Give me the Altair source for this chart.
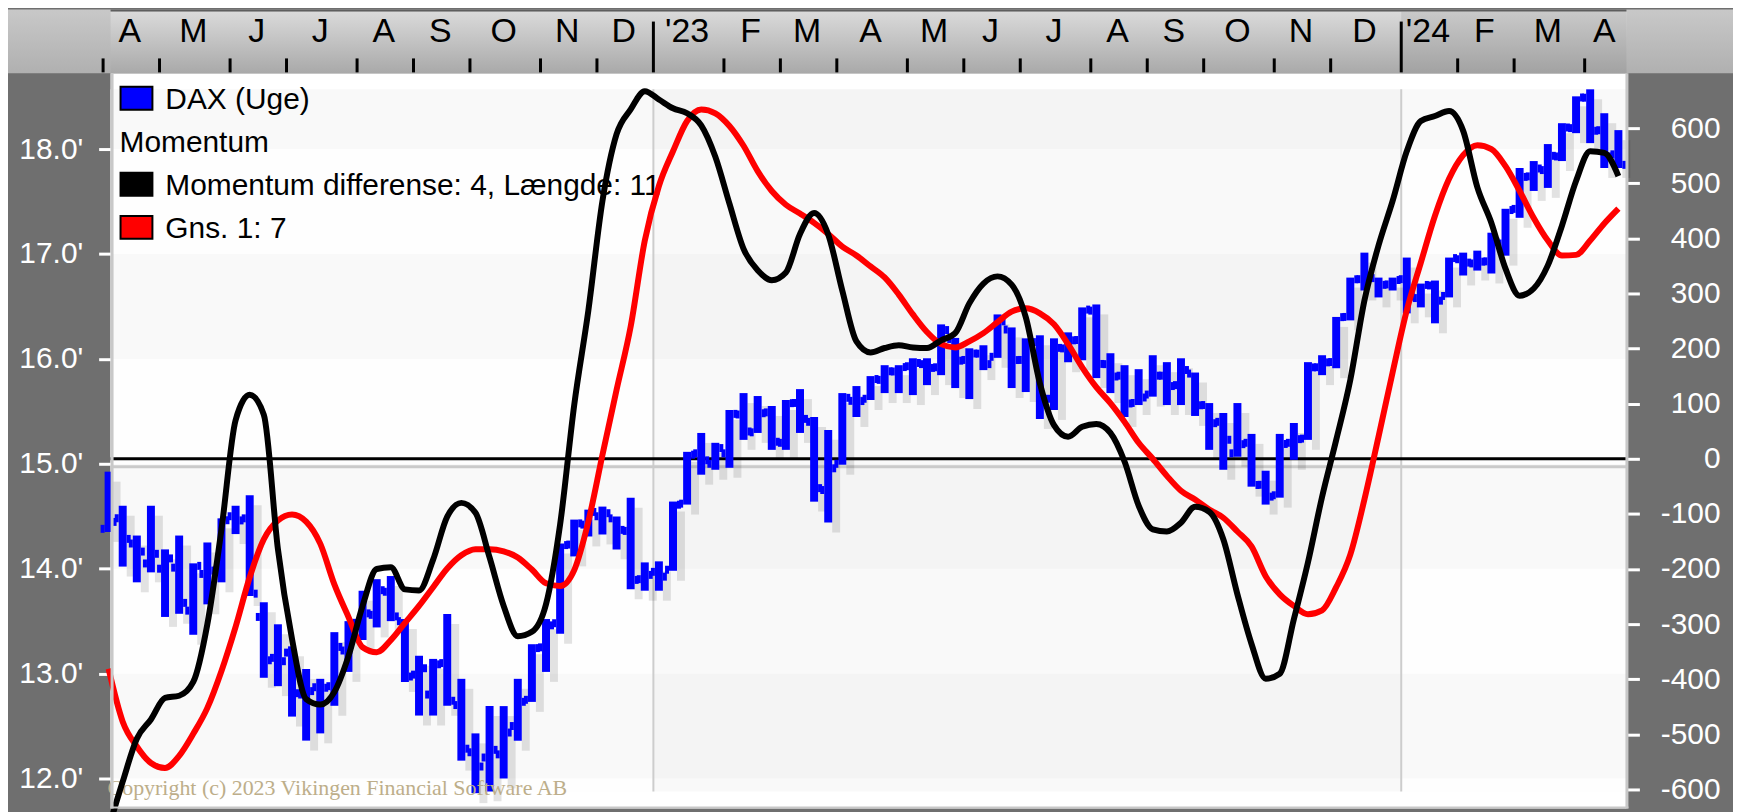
import altair as alt
import pandas as pd

FONT = "Liberation Sans Narrow, Arial Narrow, Liberation Sans, Arial, sans-serif"
SERIF = "Liberation Serif, DejaVu Serif, serif"

# ---------------- data ----------------
week = list(range(108))

dax_open = [14380, 14480, 14240, 14050, 14000, 14010, 13600, 13950, 13990, 14500,
            14480, 13540, 13150, 13200, 12800, 12870, 12880, 13220, 13460, 13560,
            13780, 13500, 12990, 12800, 13100, 12700, 12250, 12200, 12230, 12500,
            12750, 13250, 13480, 14230, 14420, 14500, 14480, 14360, 13900, 13970,
            13990, 14620, 15100, 15000, 15100, 15470, 15300, 15490, 15200, 15580,
            15400, 14750, 15000, 15600, 15620, 15800, 15880, 15930, 15950, 15920,
            16190, 15990, 16050, 16020, 16280, 15990, 16160, 15620, 16100, 16180,
            16460, 15950, 15840, 15580, 15660, 15840, 15750, 15860, 15560, 15400,
            15100, 15200, 14800, 14700, 15200, 15240, 15920, 15970, 16400, 16760,
            16770, 16710, 16760, 16580, 16700, 16600, 16950, 16910, 16930, 17100,
            17430, 17740, 17800, 17930, 18200, 18490, 18180, 17950]

dax_high = [14925, 14600, 14316, 14600, 14184, 14316, 14051, 14250, 14480, 14600,
            14700, 13680, 13470, 13260, 13044, 12950, 13395, 13500, 13790, 13900,
            13930, 13520, 13170, 13140, 13567, 12950, 12430, 12690, 12690, 12950,
            13280, 13520, 14240, 14468, 14563, 14592, 14497, 14677, 14060, 14070,
            14640, 15114, 15294, 15200, 15513, 15674, 15646, 15551, 15608, 15712,
            15446, 15323, 15674, 15741, 15836, 15940, 15940, 16006, 16006, 16329,
            16200, 16101, 16130, 16424, 16300, 16196, 16225, 16196, 16253, 16491,
            16519, 16054, 15940, 15902, 16035, 15969, 16006, 15870, 15579, 15484,
            15579, 15285, 14934, 15285, 15389, 15969, 16035, 16400, 16775, 17013,
            16775, 16775, 16966, 16718, 16747, 16966, 17013, 17032, 17203, 17431,
            17820, 17886, 18048, 18247, 18503, 18570, 18342, 18181]

dax_low = [14350, 14020, 13870, 13965, 13540, 13570, 13370, 13660, 13870, 14330,
           13740, 12960, 12880, 12590, 12361, 12430, 12693, 13016, 13320, 13440,
           13500, 12920, 12600, 12600, 12693, 12170, 11860, 11877, 12000, 12360,
           12730, 13016, 13380, 14117, 14307, 14326, 14184, 13804, 13790, 13790,
           13980, 14611, 14896, 14943, 14962, 15228, 15294, 15133, 15133, 15294,
           14639, 14440, 14991, 15446, 15608, 15674, 15674, 15655, 15750, 15845,
           15722, 15617, 15893, 16010, 15722, 15684, 15427, 15513, 15968, 15987,
           15817, 15674, 15446, 15560, 15640, 15560, 15560, 15456, 15133, 14943,
           15067, 14782, 14611, 14677, 15038, 15228, 15845, 15911, 16367, 16652,
           16586, 16652, 16434, 16491, 16339, 16586, 16795, 16842, 16814, 16984,
           17345, 17601, 17630, 17886, 18152, 18057, 17820, 17820]

dax_close = [14446, 14284, 14163, 14142, 14098, 13674, 14027, 13982, 14462, 14460,
             13762, 13127, 13118, 12813, 12833, 12865, 13254, 13484, 13574, 13795,
             13545, 12972, 13051, 13088, 12741, 12284, 12114, 12273, 12438, 12731,
             13243, 13460, 14225, 14432, 14541, 14529, 14370, 13893, 13941, 13924,
             14610, 15087, 15033, 15150, 15476, 15308, 15482, 15210, 15578, 15428,
             14768, 14957, 15629, 15598, 15808, 15882, 15922, 15961, 15914, 16275,
             15983, 16051, 15950, 16358, 15989, 16148, 15603, 16105, 16177, 16470,
             15952, 15832, 15575, 15632, 15840, 15741, 15894, 15558, 15387, 15229,
             15187, 14798, 14687, 15189, 15235, 15919, 15967, 16398, 16759, 16795,
             16706, 16752, 16594, 16705, 16555, 16961, 16918, 16927, 17117, 17419,
             17735, 17815, 17936, 18206, 18492, 18175, 17930, 17850]

momentum = [-670, -586, -508, -473, -434, -430, -405, -300, -128, 70,
            116, 80, -164, -327, -436, -446, -423, -358, -267, -200,
            -197, -237, -239, -183, -105, -80, -98, -179, -267, -322,
            -314, -264, -119, 98, 269, 468, 589, 634, 667, 652,
            636, 627, 605, 548, 463, 381, 342, 324, 338, 408,
            446, 407, 305, 213, 193, 201, 206, 202, 201, 215,
            228, 282, 318, 331, 316, 257, 137, 61, 40, 58,
            63, 47, -5, -85, -128, -132, -116, -87, -96, -146,
            -246, -336, -399, -390, -291, -188, -69, 34, 143, 287,
            387, 468, 558, 613, 622, 631, 595, 493, 428, 345,
            296, 309, 351, 423, 504, 558, 555, 513]

momentum_avg = [-381, -477, -522, -552, -561, -539, -499, -452, -385, -305,
                -215, -146, -112, -101, -114, -154, -228, -287, -342, -351,
                -329, -298, -267, -233, -199, -175, -164, -164, -168, -179,
                -201, -226, -231, -202, -114, 7, 125, 240, 396, 495,
                558, 613, 634, 627, 604, 568, 522, 486, 461, 445,
                428, 408, 385, 369, 349, 329, 298, 262, 230, 208,
                202, 213, 228, 248, 267, 273, 264, 244, 208, 166,
                130, 101, 67, 29, 0, -31, -58, -74, -92, -107,
                -132, -159, -213, -246, -267, -282, -275, -233, -174, -74,
                40, 157, 269, 356, 441, 508, 551, 569, 562, 531,
                486, 437, 396, 369, 370, 396, 427, 454]

month_labels = ["A", "M", "J", "J", "A", "S", "O", "N", "D", "'23", "F", "M", "A",
                "M", "J", "J", "A", "S", "O", "N", "D", "'24", "F", "M", "A"]
month_start_week = [0, 4, 9, 13, 18, 22, 26, 31, 35, 39, 44, 48, 52,
                    57, 61, 65, 70, 74, 78, 83, 87, 92, 96, 100, 105]

price_ticks = [12000, 13000, 14000, 15000, 16000, 17000, 18000]
momentum_ticks = [-600, -500, -400, -300, -200, -100, 0, 100, 200, 300, 400, 500, 600]

band_lo = [11875, 12000, 13000, 14000, 15000, 16000, 17000, 18000]
band_hi = [12000, 13000, 14000, 15000, 16000, 17000, 18000, 18570]
band_fill = ["#fefefe", "#f9f9f9", "#fefefe", "#f9f9f9", "#fefefe", "#f9f9f9", "#fefefe", "#f9f9f9"]

legend_labels = ["DAX (Uge)", "Momentum", "Momentum differense: 4, Længde: 11", "Gns. 1: 7"]
legend_colors = ["#0000ff", None, "#000000", "#ff0000"]
copyright_text = "Copyright (c) 2023 Vikingen Financial Software AB"

# ---------------- layout ----------------
W, H = 1522, 738
PAD_L, PAD_T, PAD_R, PAD_B = 103, 64, 107, 2
X_DOMAIN = [0.141, 107.57]
P_DOMAIN = [11715, 18722]
M_DOMAIN = [-634.4, 699.4]

xs = alt.Scale(domain=X_DOMAIN, nice=False, zero=False)
ps = alt.Scale(domain=P_DOMAIN, nice=False, zero=False)
ms = alt.Scale(domain=M_DOMAIN, nice=False, zero=False)

df = pd.DataFrame({"w": week, "open": dax_open, "high": dax_high, "low": dax_low,
                   "close": dax_close, "mom": momentum, "avg": momentum_avg})

year_starts = [month_start_week[i] - 0.39 for i, l in enumerate(month_labels) if l.startswith("'")]
ends = month_start_week[1:] + [108]
months_df = pd.DataFrame({
    "label": month_labels,
    "mid": [(s + e - 1) / 2 for s, e in zip(month_start_week, ends)],
    "tick": [s - 0.39 for s in month_start_week],
    "year": [l.startswith("'") for l in month_labels],
})

# ---------- background (price scale) ----------
bands_df = pd.DataFrame({"lo": band_lo, "hi": band_hi, "fill": band_fill})
bands = alt.Chart(bands_df).mark_rect().encode(
    x=alt.value(0), x2=alt.value(W),
    y=alt.Y("hi:Q", scale=ps, axis=None), y2="lo:Q",
    color=alt.Color("fill:N", scale=None),
)
yr_df = pd.DataFrame({"x0": [year_starts[0]], "x1": [year_starts[1]],
                      "lo": [band_lo[0]], "hi": [band_hi[-1]]})
yr_shade = alt.Chart(yr_df).mark_rect(color="#000000", opacity=0.02).encode(
    x=alt.X("x0:Q", scale=xs, axis=None), x2="x1:Q",
    y=alt.Y("hi:Q", scale=ps, axis=None), y2="lo:Q",
)
sep_df = pd.DataFrame({"x": year_starts, "lo": [band_lo[0]] * 2, "hi": [band_hi[-1]] * 2})
seps = alt.Chart(sep_df).mark_rule(color="#cdcdcd", strokeWidth=2).encode(
    x=alt.X("x:Q", scale=xs, axis=None),
    y=alt.Y("hi:Q", scale=ps, axis=None), y2="lo:Q",
)
bg_group = alt.layer(bands, yr_shade, seps)

# ---------- zero line (momentum scale) ----------
zero_df = pd.DataFrame({"v": [0]})
zero_shadow = alt.Chart(zero_df).mark_rule(color="#cacaca", strokeWidth=3, yOffset=8).encode(
    x=alt.value(0), x2=alt.value(W), y=alt.Y("v:Q", scale=ms, axis=None))
zero_line = alt.Chart(zero_df).mark_rule(color="#000000", strokeWidth=3).encode(
    x=alt.value(0), x2=alt.value(W), y=alt.Y("v:Q", scale=ms, axis=None))
zero_group = alt.layer(zero_shadow, zero_line)

# ---------- OHLC bars (price scale) ----------
left_axis = alt.Axis(orient="left", values=price_ticks,
                     labelExpr="format(datum.value / 1000, '.1f') + \"'\"",
                     labelColor="#ffffff", labelFont=FONT, labelFontSize=30,
                     tickColor="#ffffff", tickSize=12, tickWidth=3, domain=False,
                     grid=False, labelPadding=16, title=None, labelOverlap=False,
                     labelFlush=False, labelBound=False)
base = alt.Chart(df)
Xw = alt.X("w:Q", scale=xs, axis=None)
shadows = base.mark_rect(color="#000000", opacity=0.11, xOffset=4, x2Offset=12,
                         yOffset=10, y2Offset=10).encode(
    x=Xw, x2="w:Q", y=alt.Y("high:Q", scale=ps, axis=left_axis), y2="low:Q")
bars = base.mark_rect(color="#0000ff", xOffset=-4, x2Offset=4).encode(
    x=Xw, x2="w:Q", y=alt.Y("high:Q", scale=ps, axis=left_axis), y2="low:Q")
open_ticks = base.mark_rect(color="#0000ff", xOffset=-8, x2Offset=-4,
                            yOffset=-4, y2Offset=4).encode(
    x=Xw, x2="w:Q", y=alt.Y("open:Q", scale=ps, axis=left_axis), y2="open:Q")
close_ticks = base.mark_rect(color="#0000ff", xOffset=4, x2Offset=8,
                             yOffset=-4, y2Offset=4).encode(
    x=Xw, x2="w:Q", y=alt.Y("close:Q", scale=ps, axis=left_axis), y2="close:Q")

# legend (drawn under the indicator lines)
legend_layers = []
for i, (lab, col) in enumerate(zip(legend_labels, legend_colors)):
    cy = 25 + i * 43.2
    ldf = pd.DataFrame({"label": [lab]})
    if col is not None:
        legend_layers.append(alt.Chart(ldf).mark_rect(color=col, stroke="#000000", strokeWidth=2).encode(
            x=alt.value(10), x2=alt.value(42), y=alt.value(cy - 11.5), y2=alt.value(cy + 11.5)))
        tx = 55
    else:
        tx = 9
    legend_layers.append(alt.Chart(ldf).mark_text(font=FONT, fontSize=30, align="left",
                                                  baseline="alphabetic", color="#000000").encode(
        x=alt.value(tx), y=alt.value(cy + 11), text="label:N"))

copy_df = pd.DataFrame({"label": [copyright_text]})
copyright = alt.Chart(copy_df).mark_text(font=SERIF, fontSize=22, align="left",
                                         baseline="alphabetic", color="#bdae8a").encode(
    x=alt.value(-3), y=alt.value(725), text="label:N")

bar_group = alt.layer(shadows, bars, open_ticks, close_ticks, *legend_layers, copyright)

# ---------- momentum lines (momentum scale) ----------
right_axis = alt.Axis(orient="right", values=momentum_ticks, labelExpr="'' + datum.value",
                      labelColor="#ffffff", labelFont=FONT, labelFontSize=30,
                      tickColor="#ffffff", tickSize=13, tickWidth=3, domain=False,
                      grid=False, labelPadding=81, labelAlign="right", title=None,
                      labelOverlap=False, labelFlush=False, labelBound=False)
red_line = base.mark_line(color="#ff0000", strokeWidth=6, interpolate="monotone").encode(
    x=Xw, y=alt.Y("avg:Q", scale=ms, axis=right_axis))
black_line = base.mark_line(color="#000000", strokeWidth=6, interpolate="monotone").encode(
    x=Xw, y=alt.Y("mom:Q", scale=ms, axis=right_axis))
line_group = alt.layer(red_line, black_line)

# ---------- frame & top time axis ----------
one = pd.DataFrame({"a": [0]})
def grad(c0, c1):
    return alt.LinearGradient(gradient="linear", x1=0, x2=0, y1=0, y2=1,
                              stops=[alt.GradientStop(color=c0, offset=0),
                                     alt.GradientStop(color=c1, offset=1)])

band_all = alt.Chart(one).mark_rect(color=grad("#c8c8c8", "#b0b0b0")).encode(
    x=alt.value(-PAD_L), x2=alt.value(W + PAD_R), y=alt.value(-PAD_T), y2=alt.value(0))
band_main = alt.Chart(one).mark_rect(color=grad("#dadada", "#a9a9a9")).encode(
    x=alt.value(0), x2=alt.value(W), y=alt.value(-PAD_T + 2), y2=alt.value(0))
y24_df = pd.DataFrame({"x0": [year_starts[1]]})
band_24 = alt.Chart(y24_df).mark_rect(color=grad("#c9c9c9", "#a2a2a2")).encode(
    x=alt.X("x0:Q", scale=xs, axis=None), x2=alt.value(W), y=alt.value(-PAD_T + 2), y2=alt.value(0))
top_line = alt.Chart(one).mark_rect(color="#5e5e5e").encode(
    x=alt.value(0), x2=alt.value(W), y=alt.value(-PAD_T), y2=alt.value(-PAD_T + 2))
m_ticks = alt.Chart(months_df).transform_filter("!datum.year").mark_rule(
    color="#000000", strokeWidth=3).encode(
    x=alt.X("tick:Q", scale=xs, axis=None), y=alt.value(-15), y2=alt.value(-1))
y_ticks = alt.Chart(months_df).transform_filter("datum.year").mark_rule(
    color="#000000", strokeWidth=3).encode(
    x=alt.X("tick:Q", scale=xs, axis=None), y=alt.value(-52), y2=alt.value(-1))
m_labels = alt.Chart(months_df).mark_text(font=FONT, fontSize=34, color="#000000",
                                           baseline="alphabetic", align="center").encode(
    x=alt.X("mid:Q", scale=xs, axis=None), y=alt.value(-31), text="label:N")
border_l = alt.Chart(one).mark_rect(color="#c8c8c8").encode(
    x=alt.value(0), x2=alt.value(3), y=alt.value(0), y2=alt.value(H))
border_r = alt.Chart(one).mark_rect(color="#c8c8c8").encode(
    x=alt.value(W - 1), x2=alt.value(W + 2), y=alt.value(0), y2=alt.value(H))
border_b = alt.Chart(one).mark_rect(color="#c8c8c8").encode(
    x=alt.value(0), x2=alt.value(W + 2), y=alt.value(H - 2), y2=alt.value(H))
frame_group = alt.layer(band_all, band_main, band_24, top_line, m_ticks, y_ticks, m_labels,
                        border_l, border_r, border_b)

chart = alt.layer(bg_group, zero_group, bar_group, line_group, frame_group).resolve_scale(
    y="independent"
).properties(
    width=W, height=H,
    padding={"left": PAD_L, "top": PAD_T, "right": PAD_R, "bottom": PAD_B},
    autosize=alt.AutoSizeParams(type="none"),
    background="#6f6f6f",
).configure_view(stroke=None, fill="#ffffff")

chart.save("out.html", embed_options={"renderer": "svg", "actions": False})
